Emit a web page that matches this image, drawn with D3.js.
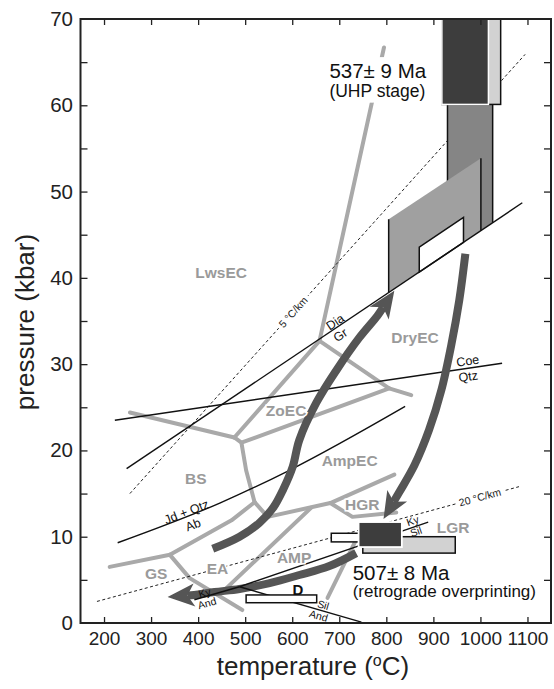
<!DOCTYPE html>
<html>
<head>
<meta charset="utf-8">
<script src="https://cdn.jsdelivr.net/npm/d3@7"></script>
<style>
  body { margin: 0; background: #fff; }
  svg { display: block; }
  text { font-family: "Liberation Sans", Arial, Helvetica, sans-serif; }
</style>
</head>
<body>
<svg id="chart" width="554" height="689"></svg>
<script>
// ---- axes ----
const tempDomain = [150, 1150];
const pressDomain = [0, 70];
const tempTicks = [200, 300, 400, 500, 600, 700, 800, 900, 1000, 1100];
const pressTicks = [0, 5, 10, 15, 20, 25, 30, 35, 40, 45, 50, 55, 60, 65, 70];
const pressLabels = [0, 10, 20, 30, 40, 50, 60, 70];

// ---- metamorphic facies boundaries [T °C, P kbar] ----
const faciesBoundaries = [
  [[795, 66.7], [658, 32.7]],
  [[658, 32.7], [806, 27.2], [853, 26.4]],
  [[658, 32.7], [477, 21.5]],
  [[477, 21.5], [255, 24.4]],
  [[477, 21.5], [492, 20.9], [502, 17.7], [520, 14.0]],
  [[492, 20.9], [806, 27.2]],
  [[520, 14.0], [471, 11.9], [340, 7.9]],
  [[340, 7.9], [212, 6.5]],
  [[340, 7.9], [382, 5.2], [494, 1.5]],
  [[520, 14.0], [548, 12.3], [681, 13.9], [817, 17.2]],
  [[681, 13.9], [728, 12.3], [821, 12.8]],
  [[444, 3.2], [640, 13.35]],
  [[738, 9.9], [675, 2.9]]
];
const faciesNames = ["LwsEC", "DryEC", "ZoEC", "BS", "AmpEC", "HGR", "LGR", "AMP", "EA", "GS"];
const faciesT = [449, 861, 587, 395, 722, 749, 942, 604, 441, 311];
const faciesP = [40.6, 33.1, 24.6, 16.8, 18.8, 13.7, 11.1, 7.6, 6.3, 5.7];

// ---- reaction curves ----
const diaGr = [[248, 17.9], [1089, 48.7]];
const coeQtz = [[223, 23.5], [1046, 30.1]];
const jdQtzAb = [[229, 9.3], [446, 13.9], [594, 17.7], [840, 25.1]];
const kyAnd = [[392, 2.7], [488, 4.2]];
const kySil = [[488, 4.2], [889, 11.7]];
const andSil = [[488, 4.2], [747, 0.1]];

// reaction labels: text, curve, T, P
const reactionLabels = [
  ["Dia", diaGr, 691, 34.9],
  ["Gr", diaGr, 702, 33.4],
  ["Coe", coeQtz, 973, 30.4],
  ["Qtz", coeQtz, 974, 28.6],
  ["Jd + Qtz", jdQtzAb, 375, 12.9],
  ["Ab", jdQtzAb, 389, 11.4],
  ["Ky", kyAnd, 414, 3.5],
  ["And", kyAnd, 419, 2.3],
  ["Ky", kySil, 856, 11.85],
  ["Sil", kySil, 863, 10.6],
  ["Sil", andSil, 666, 2.1],
  ["And", andSil, 656, 0.85]
];

// ---- geotherms ----
const geotherm5 = [[255, 15.0], [1095, 65.9]];
const geotherm20 = [[185, 2.5], [1082, 15.8]];
const geothermLabels = ["5 °C/km", "20 °C/km"];
const geothermLabelT = [602, 999];

// ---- peak-stage fields ----
const uhpColumn = [[930, 60.1], [1026, 60.1], [1026, 46.4], [930, 42.9]];
const peakBand = [[805, 38.3], [805, 46.8], [1001, 53.85], [1001, 45.46]];
const peakWindow = [[870, 40.67], [870, 43.57], [964, 47.0], [964, 44.11]];

// boxes: [Tmin, Tmax, Pmin, Pmax]
const uhpRangeBox = [918, 1043, 60.1, 70];
const uhpAgeBox = [918, 1017, 60.1, 70];
const retroAltBox = [683, 770, 9.4, 10.4];
const retroRangeBox = [750, 946.5, 8.1, 10.0];
const retroAgeBox = [741, 833, 8.8, 11.7];
const boxD = [502, 652, 2.35, 3.25];

// ---- P-T paths ----
const progradePath = [[431, 8.6], [488, 10.0], [530, 11.6], [560, 13.4], [581, 15.5], [601, 18.1],
  [615, 21.2], [651, 25.5], [694, 29.3], [743, 33.1], [781, 35.6], [817, 38.5]];
const decompressionPath = [[968, 42.8], [955, 37.4], [938, 32.2], [917, 27.0], [891, 22.4],
  [860, 18.3], [828, 15.2], [794, 12.05]];
const coolingPath = [[736, 8.1], [679, 6.6], [615, 5.56], [552, 4.63], [488, 3.94], [435, 3.59],
  [392, 3.24], [335, 3.0]];

// ---- age annotations ----
const uhpAge = ["537± 9 Ma", "(UHP stage)"];
const retroAge = ["507± 8 Ma", "(retrograde overprinting)"];
const uhpAgePos = [679, 63.15, 61.0];
const retroAgePos = [728.5, 4.98, 3.0];
const labelD = ["D", 612, 3.82];

// ================= drawing =================
const svg = d3.select("#chart");
const x = d3.scaleLinear().domain(tempDomain).range([80.5, 551]);
const y = d3.scaleLinear().domain(pressDomain).range([623, 19]);
const line = d3.line().x(d => x(d[0])).y(d => y(d[1]));
const smooth = d3.line().x(d => x(d[0])).y(d => y(d[1])).curve(d3.curveMonotoneX);

svg.append("defs").append("clipPath").attr("id", "plot")
  .append("rect").attr("x", x(tempDomain[0])).attr("y", y(pressDomain[1]))
  .attr("width", x(tempDomain[1]) - x(tempDomain[0]))
  .attr("height", y(pressDomain[0]) - y(pressDomain[1]));

const plot = svg.append("g").attr("clip-path", "url(#plot)");

const GRAY_LINE = "#a9a9a9";
const GRAY_TEXT = "#9a9a9a";
const ARROW = "#555555";

// facies boundaries
plot.append("g").selectAll("path").data(faciesBoundaries).join("path")
  .attr("d", line).attr("fill", "none").attr("stroke", GRAY_LINE)
  .attr("stroke-width", 4).attr("stroke-linejoin", "round").attr("stroke-linecap", "round");

// helpers for positions along straight curves
function pointOn(seg, t) {
  const [a, b] = seg;
  const f = (t - a[0]) / (b[0] - a[0]);
  return [t, a[1] + f * (b[1] - a[1])];
}
function angleOf(seg, t) {
  let a = seg[0], b = seg[seg.length - 1];
  for (let i = 0; i < seg.length - 1; i++) {
    if (t >= Math.min(seg[i][0], seg[i + 1][0]) && t <= Math.max(seg[i][0], seg[i + 1][0])) {
      a = seg[i]; b = seg[i + 1];
    }
  }
  return Math.atan2(y(b[1]) - y(a[1]), x(b[0]) - x(a[0])) * 180 / Math.PI;
}

// geotherms, each with a knocked-out gap for its label
const geoG = plot.append("g");
[[geotherm5, 0], [geotherm20, 1]].forEach(([seg, i]) => {
  geoG.append("path").attr("d", line(seg)).attr("fill", "none")
    .attr("stroke", "#222").attr("stroke-width", 1).attr("stroke-dasharray", "3,2.5");
  const p = pointOn(seg, geothermLabelT[i]);
  const ang = angleOf(seg, geothermLabelT[i]);
  const lg = geoG.append("g")
    .attr("transform", `translate(${x(p[0])},${y(p[1])}) rotate(${ang})`);
  const bg = lg.append("rect").attr("fill", "#fff");
  const t = lg.append("text").attr("text-anchor", "middle").attr("dy", "0.35em")
    .attr("font-size", 10.5).attr("fill", "#222").text(geothermLabels[i]);
  const bb = t.node().getBBox();
  bg.attr("x", bb.x - 3).attr("y", -3).attr("width", bb.width + 6).attr("height", 6);
});

// UHP column and peak fields
plot.append("path").attr("d", line(uhpColumn) + "Z").attr("fill", "#858585");
plot.append("path").attr("d", line([uhpColumn[0], uhpColumn[3]])).attr("stroke", "#111").attr("stroke-width", 1.5);
plot.append("path").attr("d", line([uhpColumn[1], uhpColumn[2]])).attr("stroke", "#111").attr("stroke-width", 1.5);
plot.append("path").attr("d", line(peakBand) + "Z").attr("fill", "#a0a0a0");
plot.append("path").attr("d", line([peakBand[0], peakBand[1]])).attr("stroke", "#111").attr("stroke-width", 1.5);
plot.append("path").attr("d", line([peakBand[2], peakBand[3]])).attr("stroke", "#111").attr("stroke-width", 1.5);
plot.append("path").attr("d", line(peakWindow) + "Z").attr("fill", "#fff")
  .attr("stroke", "#111").attr("stroke-width", 1.5);

// reaction curves
[diaGr, coeQtz, jdQtzAb].forEach(seg => {
  plot.append("path").attr("d", smooth(seg)).attr("fill", "none")
    .attr("stroke", "#111").attr("stroke-width", 1.4);
});

// P-T path arrows
function drawArrow(pts, width) {
  const px = pts.map(d => [x(d[0]), y(d[1])]);
  const tip = px[px.length - 1], prev = px[px.length - 2];
  const dx = tip[0] - prev[0], dy = tip[1] - prev[1], L = Math.hypot(dx, dy);
  const ux = dx / L, uy = dy / L, nx = -uy, ny = ux;
  const headLen = 27, half = 11.5, notch = 7;
  const bx = tip[0] - ux * headLen, by = tip[1] - uy * headLen;
  const inner = [bx + ux * notch, by + uy * notch];
  const shaft = px.slice(0, -1).concat([inner]);
  plot.append("path")
    .attr("d", d3.line().curve(d3.curveCatmullRom)(shaft))
    .attr("fill", "none").attr("stroke", ARROW).attr("stroke-width", width)
    .attr("stroke-linecap", "butt").attr("stroke-linejoin", "round");
  plot.append("path")
    .attr("d", d3.line()([tip, [bx + nx * half, by + ny * half], inner, [bx - nx * half, by - ny * half]]) + "Z")
    .attr("fill", ARROW);
}
drawArrow(progradePath, 8);
drawArrow(decompressionPath, 8);
drawArrow(coolingPath, 8);

// aluminosilicate reactions
[kyAnd, kySil, andSil].forEach(seg => {
  plot.append("path").attr("d", line(seg)).attr("fill", "none")
    .attr("stroke", "#111").attr("stroke-width", 1.4);
});

// boxes
function box(b, fill, stroke, sw) {
  plot.append("rect").attr("x", x(b[0])).attr("y", y(b[3]))
    .attr("width", x(b[1]) - x(b[0])).attr("height", y(b[2]) - y(b[3]))
    .attr("fill", fill).attr("stroke", stroke).attr("stroke-width", sw);
}
box(uhpRangeBox, "#d2d2d2", "#111", 1.5);
box(uhpAgeBox, "#3d3d3d", "#fff", 1.5);
box(retroAltBox, "#fff", "#111", 1.5);
box(retroRangeBox, "#d2d2d2", "#111", 1.5);
box(retroAgeBox, "#3d3d3d", "#fff", 1.8);
box(boxD, "#fff", "#111", 1.5);

// facies labels
svg.append("g").selectAll("text").data(faciesNames).join("text")
  .attr("x", (d, i) => x(faciesT[i])).attr("y", (d, i) => y(faciesP[i]))
  .attr("dy", "0.36em").attr("text-anchor", "middle")
  .attr("font-size", 15.5).attr("font-weight", "bold").attr("fill", GRAY_TEXT)
  .attr("stroke", "#fff").attr("stroke-width", 3).attr("paint-order", "stroke")
  .text(d => d);

// reaction labels
svg.append("g").selectAll("text").data(reactionLabels).join("text")
  .attr("transform", d => `translate(${x(d[2])},${y(d[3])}) rotate(${angleOf(d[1], d[2])})`)
  .attr("dy", "0.36em").attr("text-anchor", "middle")
  .attr("font-size", d => (d[1] === diaGr || d[1] === coeQtz || d[1] === jdQtzAb) ? 12.5 : 10.5)
  .attr("fill", "#111").text(d => d[0]);

// "D"
svg.append("text").attr("x", x(labelD[1])).attr("y", y(labelD[2])).attr("dy", "0.36em")
  .attr("text-anchor", "middle").attr("font-size", 15).attr("font-weight", "bold")
  .attr("fill", "#111").text(labelD[0]);

// age annotations
const ua = svg.append("g");
const uaBg = ua.append("rect").attr("fill", "#fff");
ua.append("text").attr("x", x(uhpAgePos[0])).attr("y", y(uhpAgePos[1]))
  .attr("font-size", 20.5).attr("fill", "#111").text(uhpAge[0]);
ua.append("text").attr("x", x(uhpAgePos[0])).attr("y", y(uhpAgePos[2]))
  .attr("font-size", 17.5).attr("fill", "#111").text(uhpAge[1]);
const ub = ua.node().getBBox();
uaBg.attr("x", ub.x - 2).attr("y", ub.y - 2).attr("width", ub.width + 4).attr("height", ub.height + 4);

svg.append("text").attr("x", x(retroAgePos[0])).attr("y", y(retroAgePos[1]))
  .attr("font-size", 20.5).attr("fill", "#111").text(retroAge[0]);
svg.append("text").attr("x", x(retroAgePos[0])).attr("y", y(retroAgePos[2]))
  .attr("font-size", 17).attr("fill", "#111").text(retroAge[1]);

// axes (ticks pointing inward)
const AX = "#222";
const fmt = d3.format("d");
const gB = svg.append("g").attr("transform", `translate(0,${y(0)})`)
  .call(d3.axisBottom(x).tickValues(tempTicks).tickSize(-6).tickSizeOuter(0).tickPadding(8.5).tickFormat(fmt));
const gT = svg.append("g").attr("transform", `translate(0,${y(70)})`)
  .call(d3.axisTop(x).tickValues(tempTicks).tickSize(-6).tickSizeOuter(0).tickFormat(""));
const gL = svg.append("g").attr("transform", `translate(${x(150)},0)`)
  .call(d3.axisLeft(y).tickValues(pressTicks).tickSize(-7).tickSizeOuter(0).tickPadding(7.5)
    .tickFormat(d => pressLabels.includes(d) ? fmt(d) : ""));
const gR = svg.append("g").attr("transform", `translate(${x(1150)},0)`)
  .call(d3.axisRight(y).tickValues(pressTicks).tickSize(-7).tickSizeOuter(0).tickFormat(""));
[gB, gT, gL, gR].forEach(g => {
  g.select(".domain").remove();
  g.selectAll(".tick line").attr("stroke", AX).attr("stroke-width", 1.3);
  g.selectAll("text").attr("fill", AX).attr("font-family", "'Liberation Sans', Arial, sans-serif");
});
gB.selectAll("text").attr("font-size", 19);
gL.selectAll("text").attr("font-size", 20.5);
// the 0 and 70 tick marks coincide with the frame
gL.selectAll(".tick").filter(d => d === 0 || d === 70).select("line").remove();
gR.selectAll(".tick").filter(d => d === 0 || d === 70).select("line").remove();

svg.append("rect").attr("x", x(150)).attr("y", y(70))
  .attr("width", x(1150) - x(150)).attr("height", y(0) - y(70))
  .attr("fill", "none").attr("stroke", AX).attr("stroke-width", 2);

// axis titles
svg.append("text").attr("transform", `translate(34,322) rotate(-90)`)
  .attr("text-anchor", "middle").attr("font-size", 26).attr("fill", AX)
  .text("pressure (kbar)");
const xt = svg.append("text").attr("x", 313).attr("y", 675)
  .attr("text-anchor", "middle").attr("font-size", 26).attr("fill", AX);
xt.append("tspan").text("temperature (");
xt.append("tspan").attr("font-size", 16).attr("dy", -9).text("o");
xt.append("tspan").attr("dy", 9).text("C)");
</script>
</body>
</html>
